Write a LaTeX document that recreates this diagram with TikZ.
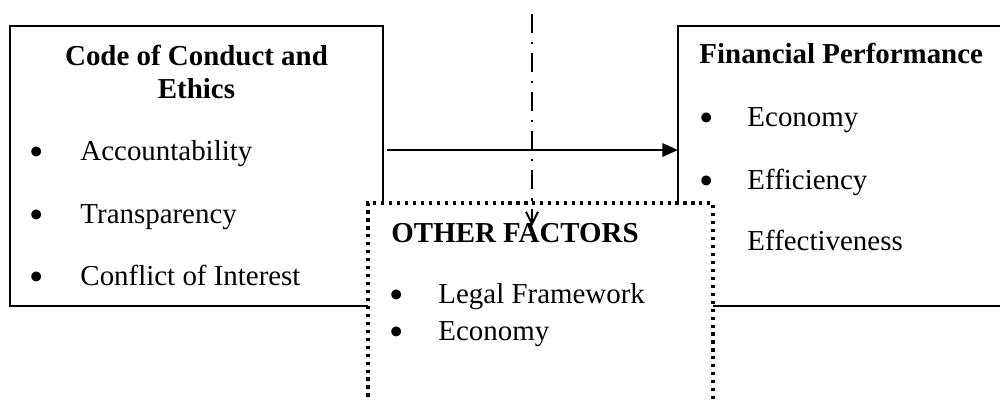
\documentclass[tikz,border=0pt]{standalone}
\usepackage{fontspec}
\setmainfont{Liberation Serif}
\usetikzlibrary{arrows.meta}
\begin{document}
\begin{tikzpicture}[x=0.415pt, y=-0.415pt,
  font=\fontsize{12}{14}\selectfont,
  frame/.style={draw, line width=0.7pt, fill=white, inner sep=0pt, outer sep=0pt},
  dotframe/.style={draw, line width=1.3pt, dash pattern=on 1.3pt off 2.0pt,
    fill=white, inner sep=0pt, outer sep=0pt},
  head/.style={font=\fontsize{12}{14}\selectfont\bfseries, inner sep=0pt},
  item/.style={anchor=base west, inner sep=0pt},
  bul/.style={anchor=base, inner sep=0pt, font=\fontsize{17}{17}\selectfont},
  harrow/.style={line width=1pt, -{Triangle[length=6.5pt, width=5.5pt]}},
  varrow/.style={line width=0.8pt, dash pattern=on 8pt off 3.6pt on 1pt off 3.6pt,
    -{Straight Barb[length=5pt, width=5pt, line width=0.8pt]}}
]
\useasboundingbox (0,0) rectangle (1000,400);
\clip (0,0) rectangle (1000,400);

% the three frames
\node[frame, minimum width={373*0.415pt}, minimum height={280*0.415pt}] (cc) at (196.5,166) {};
\node[frame, minimum width={332*0.415pt}, minimum height={280*0.415pt}] (fp) at (844,166) {};
\node[dotframe, minimum width={345*0.415pt}, minimum height={217*0.415pt}] (of) at (540.5,311.5) {};

% code of conduct and ethics
\node[head, anchor=base] (cc1) at (196.5,65) {Code of Conduct and};
\node[head, anchor=base] (cc2) at (196.5,98) {Ethics};
\node[bul] (ccb1) at (37,165) {•};
\node[item] (cci1) at (80,160) {Accountability};
\node[bul] (ccb2) at (37,228) {•};
\node[item] (cci2) at (80,223) {Transparency};
\node[bul] (ccb3) at (37,290) {•};
\node[item] (cci3) at (80,285) {Conflict of Interest};

% financial performance
\node[head, anchor=base west] (fp1) at (699,63) {Financial Performance};
\node[bul] (fpb1) at (707,131) {•};
\node[item] (fpi1) at (747,126) {Economy};
\node[bul] (fpb2) at (707,194) {•};
\node[item] (fpi2) at (747,189) {Efficiency};
\node[item] (fpi3) at (747,250) {Effectiveness};

% other factors
\node[head, anchor=base west] (of1) at (391,242) {OTHER FACTORS};
\node[bul] (ofb1) at (397,308) {•};
\node[item] (ofi1) at (438,303) {Legal Framework};
\node[bul] (ofb2) at (397,345) {•};
\node[item] (ofi2) at (438,340) {Economy};

% connectors
\draw[harrow] (cc.east |- 0,150) ++(4,0) -- (fp.west |- 0,150);
\coordinate (vtop) at (532,14);
\coordinate (vend) at (532,226);
\draw[varrow] (vtop) -- (vend);
\end{tikzpicture}
\end{document}
